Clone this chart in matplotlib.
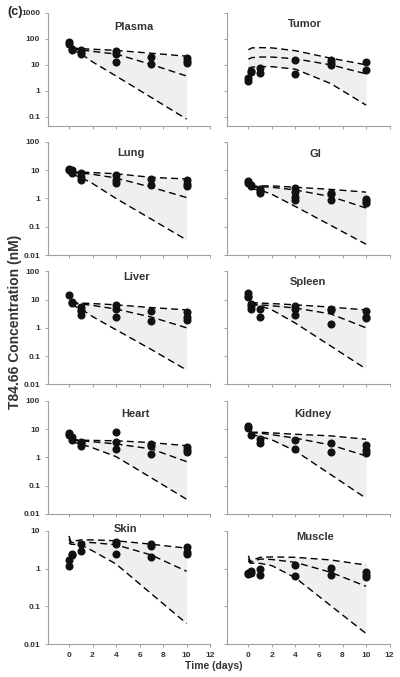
import numpy as np
import matplotlib
matplotlib.use('Agg')
import matplotlib.pyplot as plt
from matplotlib.ticker import FixedLocator, FuncFormatter, NullLocator

plt.rcParams['font.family'] = ['Liberation Sans', 'DejaVu Sans']

plasma_t = [0, 0, 0.25, 0.25, 1, 1, 1, 4, 4, 4, 7, 7, 10, 10, 10]
plasma_c = [75, 65, 42, 37, 37, 32, 27, 35, 27, 13, 20.5, 10.7, 18.6, 14.2, 12]
tumor_t = [0, 0, 0.25, 0.25, 1, 1, 4, 4, 7, 7, 7, 10, 10]
tumor_c = [2.4, 3.0, 5.5, 6.0, 7.4, 5.0, 15.6, 4.5, 15.6, 12, 10, 12.6, 6.4]
lung_t = [0, 0, 0.25, 0.25, 1, 1, 1, 4, 4, 4, 7, 7, 10, 10, 10]
lung_c = [11.3, 10.4, 10.4, 7.9, 8, 6, 4.6, 6.9, 4.4, 3.5, 5.0, 3.06, 4.6, 3.2, 2.7]
gi_t = [0, 0, 0.25, 0.25, 1, 1, 1, 4, 4, 4, 4, 7, 7, 7, 10, 10, 10]
gi_c = [4.0, 3.5, 2.8, 3.0, 2.14, 1.6, 1.9, 2.3, 1.68, 1.17, 0.9, 1.6, 1.4, 0.85, 0.95, 0.8, 0.7]
liver_t = [0, 0.25, 0.25, 1, 1, 1, 1, 4, 4, 4, 7, 7, 10, 10, 10]
liver_c = [14.8, 8.1, 7.5, 5.3, 4.3, 3.8, 2.9, 6.2, 4.6, 2.5, 3.8, 1.77, 3.5, 2.5, 1.9]
spleen_t = [0, 0, 0, 0.25, 0.25, 0.25, 1, 1, 4, 4, 4, 7, 7, 7, 10, 10, 10]
spleen_c = [17, 13.7, 12, 7.1, 4.6, 5.8, 4.6, 2.5, 5.8, 4.6, 2.9, 4.6, 4.1, 1.35, 3.8, 2.4, 2.2]
heart_t = [0, 0, 0.25, 0.25, 1, 1, 1, 4, 4, 4, 7, 7, 7, 10, 10, 10]
heart_c = [7.2, 6.3, 5.5, 4.2, 3.6, 3.2, 2.6, 7.8, 3.4, 1.95, 3.1, 2.6, 1.3, 2.3, 1.9, 1.6]
kidney_t = [0, 0, 0.25, 1, 1, 4, 4, 7, 7, 10, 10, 10]
kidney_c = [13, 10.8, 6.3, 4.4, 3.35, 4.2, 1.95, 3.15, 1.6, 2.76, 1.84, 1.4]
skin_t = [0, 0, 0.25, 0.25, 1, 1, 4, 4, 4, 7, 7, 7, 10, 10, 10]
skin_c = [1.7, 1.15, 2.4, 2.3, 4.45, 2.86, 5.2, 4.45, 2.5, 4.6, 4.0, 2.07, 3.65, 2.7, 2.4]
muscle_t = [0, 0, 0.25, 0.25, 1, 1, 4, 4, 7, 7, 10, 10, 10]
muscle_c = [0.72, 0.77, 0.77, 0.85, 1.0, 0.69, 1.26, 0.62, 1.02, 0.66, 0.8, 0.68, 0.6]

# model predictions (upper / middle / lower dashed curves)
curve_t = [0.2, 1, 2, 4, 7, 10]
tumor_curve_t = [0, 0.3, 1, 2, 4, 7, 10]
early_curve_t = [0, 0.15, 1, 2, 4, 7, 10]

plasma_hi = [45, 42, 40, 36, 28, 21.5]
plasma_mid = [42, 38, 33, 26, 10.3, 3.7]
plasma_lo = [38, 27, 13, 3.7, 0.55, 0.081]
tumor_hi = [38, 45, 46, 45, 35, 18, 10]
tumor_mid = [16.6, 19, 20, 20, 17, 10, 4.5]
tumor_lo = [7.4, 8.2, 8.5, 8.5, 6.8, 1.9, 0.28]
lung_hi = [8.5, 8.6, 8.3, 7.5, 5.6, 4.9]
lung_mid = [8.2, 8, 7.2, 5.3, 2.5, 1.08]
lung_lo = [7.3, 5.6, 3.4, 1.0, 0.185, 0.034]
gi_hi = [2.6, 2.8, 2.8, 2.5, 2.1, 1.68]
gi_mid = [2.4, 2.6, 2.5, 2.0, 1.17, 0.46]
gi_lo = [2.2, 2.0, 1.4, 0.52, 0.112, 0.024]
liver_hi = [7.6, 7.5, 7.2, 6.5, 5.2, 4.3]
liver_mid = [7.2, 7.0, 6.2, 4.6, 2.4, 1.0]
liver_lo = [6.5, 4.7, 2.5, 0.85, 0.17, 0.032]
spleen_hi = [8, 7.5, 7.2, 6.5, 5.4, 4.3]
spleen_mid = [7.5, 6.5, 6.0, 5.0, 3.1, 1.0]
spleen_lo = [6.9, 6.0, 4.3, 1.46, 0.226, 0.035]
heart_hi = [4.4, 4.1, 4.0, 3.9, 3.35, 2.6]
heart_mid = [4.2, 3.9, 3.6, 3.0, 2.0, 0.71]
heart_lo = [3.6, 3.0, 2.2, 1.07, 0.19, 0.033]
kidney_hi = [7.8, 7.8, 7.4, 6.6, 5.8, 4.4]
kidney_mid = [7.5, 7.2, 6.4, 4.8, 2.76, 1.13]
kidney_lo = [6.6, 5.5, 4.2, 1.7, 0.247, 0.036]
skin_hi = [7.4, 5.2, 5.8, 5.8, 5.5, 4.45, 3.5]
skin_mid = [6.0, 4.9, 5.1, 4.9, 4.3, 2.3, 0.85]
skin_lo = [4.9, 4.45, 4.3, 2.97, 1.33, 0.215, 0.035]
muscle_hi = [2.2, 1.6, 2.0, 2.05, 2.0, 1.7, 1.25]
muscle_mid = [1.8, 1.47, 1.8, 1.75, 1.47, 0.8, 0.34]
muscle_lo = [1.6, 1.4, 1.38, 1.2, 0.57, 0.104, 0.019]

x_ticks = [0, 2, 4, 6, 8, 10, 12]

panels = [
    ('Plasma', plasma_t, plasma_c, curve_t, plasma_hi, plasma_mid, plasma_lo, (0.044, 1000), 0.53, 0.876),
    ('Tumor', tumor_t, tumor_c, tumor_curve_t, tumor_hi, tumor_mid, tumor_lo, (0.044, 1000), 0.48, 0.90),
    ('Lung', lung_t, lung_c, curve_t, lung_hi, lung_mid, lung_lo, (0.01, 100), 0.51, 0.905),
    ('GI', gi_t, gi_c, curve_t, gi_hi, gi_mid, gi_lo, (0.01, 100), 0.546, 0.894),
    ('Liver', liver_t, liver_c, curve_t, liver_hi, liver_mid, liver_lo, (0.01, 100), 0.547, 0.952),
    ('Spleen', spleen_t, spleen_c, curve_t, spleen_hi, spleen_mid, spleen_lo, (0.01, 100), 0.50, 0.908),
    ('Heart', heart_t, heart_c, curve_t, heart_hi, heart_mid, heart_lo, (0.01, 100), 0.54, 0.885),
    ('Kidney', kidney_t, kidney_c, curve_t, kidney_hi, kidney_mid, kidney_lo, (0.01, 100), 0.53, 0.885),
    ('Skin', skin_t, skin_c, early_curve_t, skin_hi, skin_mid, skin_lo, (0.01, 10), 0.48, 1.015),
    ('Muscle', muscle_t, muscle_c, early_curve_t, muscle_hi, muscle_mid, muscle_lo, (0.01, 10), 0.54, 0.947),
]

fig = plt.figure(figsize=(4, 6.77), dpi=100)

row_bottoms = [0.8139, 0.6233, 0.4323, 0.2408, 0.0487]
col_lefts = [0.1195, 0.568]
ax_w, ax_h = 0.406, 0.167
spine_col = '#a0a0a0'
text_col = '#333333'

for i, (name, ot, oc, ct, hi, mid, lo, ylim, tx, ty) in enumerate(panels):
    row, col = divmod(i, 2)
    ax = fig.add_axes([col_lefts[col], row_bottoms[row], ax_w, ax_h])
    ax.set_yscale('log')
    ax.fill_between(ct, lo, hi, color='#efefef', lw=0, zorder=1)
    for curve in (hi, mid, lo):
        ax.plot(ct, curve, color='black', lw=1.0, dashes=(5, 3), zorder=2)
    ax.plot(ot, oc, 'o', color='#111111', ms=4.8, zorder=3)
    ax.set_xlim(-1.8, 12)
    ax.set_ylim(*ylim)
    ax.xaxis.set_major_locator(FixedLocator(x_ticks))
    decades = [10.0 ** k for k in range(-2, 4) if ylim[0] <= 10.0 ** k <= ylim[1]]
    ax.yaxis.set_major_locator(FixedLocator(decades))
    ax.yaxis.set_minor_locator(NullLocator())
    ax.yaxis.set_major_formatter(FuncFormatter(lambda v, p: '%g' % v))
    for s in ('top', 'right'):
        ax.spines[s].set_visible(False)
    for s in ('left', 'bottom'):
        ax.spines[s].set_color(spine_col)
        ax.spines[s].set_linewidth(0.8)
    ax.tick_params(length=2.5, width=0.7, color=spine_col, labelsize=6,
                   labelcolor=text_col, pad=3)
    for lab in ax.get_xticklabels() + ax.get_yticklabels():
        lab.set_fontweight('bold')
    if col == 1:
        ax.tick_params(labelleft=False)
    if row < 4:
        ax.tick_params(labelbottom=False)
    ax.text(tx, ty, name, transform=ax.transAxes, ha='center', va='center',
            fontsize=8, fontweight='bold', color=text_col)

fig.text(0.018, 1 - 12 / 677, '(c)', fontsize=9, fontweight='bold', color='#222222',
         ha='left', va='center')
fig.text(15 / 400, 1 - 322 / 677, 'T84.66 Concentration (nM)', rotation=90,
         fontsize=10, fontweight='bold', color=text_col, ha='center', va='center')
fig.text(214 / 400, 1 - 666 / 677, 'Time (days)', fontsize=7.5, fontweight='bold',
         color=text_col, ha='center', va='center')

fig.savefig('out.png', dpi=100)
